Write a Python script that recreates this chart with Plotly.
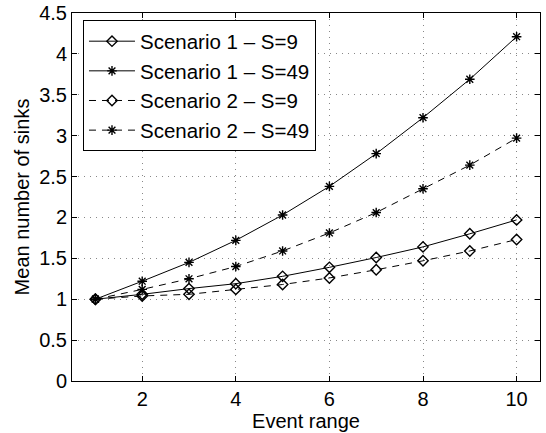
import plotly.graph_objects as go

event_range = [1, 2, 3, 4, 5, 6, 7, 8, 9, 10]
s1_s9 = [1.00, 1.06, 1.13, 1.19, 1.28, 1.39, 1.51, 1.64, 1.80, 1.97]
s1_s49 = [1.00, 1.22, 1.45, 1.72, 2.03, 2.38, 2.78, 3.22, 3.69, 4.21]
s2_s9 = [1.00, 1.04, 1.06, 1.12, 1.18, 1.26, 1.36, 1.47, 1.59, 1.73]
s2_s49 = [1.00, 1.12, 1.25, 1.40, 1.59, 1.81, 2.06, 2.35, 2.64, 2.97]

series = [
    ("Scenario 1 \u2013 S=9", s1_s9, "solid", "diamond-open"),
    ("Scenario 1 \u2013 S=49", s1_s49, "solid", "asterisk-open"),
    ("Scenario 2 \u2013 S=9", s2_s9, "7px,6px", "diamond-open"),
    ("Scenario 2 \u2013 S=49", s2_s49, "7px,6px", "asterisk-open"),
]

fig = go.Figure()
for name, ys, dash, sym in series:
    fig.add_trace(go.Scatter(
        x=event_range, y=ys, name=name, mode="lines+markers",
        line=dict(color="black", width=1, dash=dash),
        marker=dict(symbol=sym, size=8, color="black", line=dict(color="black", width=1.4)),
    ))

FS = 20
axis_common = dict(
    showline=True, linecolor="black", linewidth=1, mirror="ticks",
    ticks="inside", ticklen=5, tickcolor="black",
    showgrid=True, gridcolor="#888888", griddash="1px,5px", gridwidth=1,
    zeroline=False, tickfont=dict(size=FS, color="black"), automargin=False,
)

fig.update_layout(
    width=546, height=433,
    margin=dict(l=72, r=6, t=13, b=52),
    paper_bgcolor="white", plot_bgcolor="white",
    font=dict(family="Liberation Sans", color="black", size=FS),
    xaxis=dict(range=[0.5, 10.5], tickvals=[2, 4, 6, 8, 10],
               title=dict(text="Event range", font=dict(size=FS), standoff=0), **axis_common),
    yaxis=dict(range=[0, 4.5], dtick=0.5, tick0=0,
               title=dict(text="Mean number of sinks", font=dict(size=FS), standoff=4), **axis_common),
    legend=dict(x=0.0235, y=0.98, xanchor="left", yanchor="top",
                bordercolor="black", borderwidth=1, bgcolor="white",
                font=dict(size=20.5), itemwidth=46, tracegroupgap=0),
    showlegend=True,
)

fig.write_html("out.html", config={"displayModeBar": False},
               post_script="document.body.style.margin='0';")
